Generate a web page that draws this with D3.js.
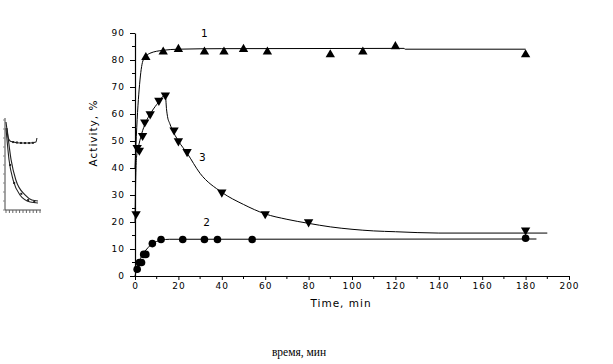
<!DOCTYPE html>
<html><head><meta charset="utf-8">
<script src="https://cdn.jsdelivr.net/npm/d3@7/dist/d3.min.js"></script>
<style>
html,body{margin:0;padding:0;background:#fff;}
svg{display:block;}
</style></head>
<body>
<svg id="chart" width="613" height="364"></svg>
<script>
// ---- data ----
const xTicks = [0,20,40,60,80,100,120,140,160,180,200];
const yTicks = [0,10,20,30,40,50,60,70,80,90];
const xLabel = "Time, min";
const yLabel = "Activity, %";
const bottomLabel = "время, мин";

// series 1 (triangle up)
const s1Time = [5,13,20,32,41,50,61,90,105,120,180];
const s1Val  = [81,83,84,83,83,84,83,82,83,85,82];
const c1Time = [0,0.8,2.3,3.8,6.9,13,20,40,124,124.5,180];
const c1Val  = [40,55,72.6,80,82.5,83.6,84,84.2,84.3,84,84];

// series 2 (circle)
const s2Time = [1,2,3,4,5,8,12,22,32,38,54,180];
const s2Val  = [2.5,5,5,8,8,12,13.5,13.5,13.5,13.5,13.5,14];
const c2Time = [0,1,2,4,6,8,10,12,16,185];
const c2Val  = [0,3,5.5,8.5,10.5,12,12.8,13.3,13.6,13.7];

// series 3 (triangle down)
const s3Time = [0.5,1,2,3.5,4.5,7,11,14,18,20,24,40,60,80,180];
const s3Val  = [23,47.5,46.5,52,57,60,65,67,54,50,46,31,23,20,17];
const c3Time = [0,0.3,0.7,1.5,3,5,7,10,14,14.5,15,16,17,20,24,30,40,50,60,70,80,90,100,110,120,140,190];
const c3Val  = [20,35,44,47.5,52.5,57,60,63.5,67,62,59,56.5,54.5,50,45.5,38,31,26.5,23,21,19.5,18.2,17.3,16.7,16.4,15.9,15.9];

const seriesLabels = ["1","2","3"];
const labelTime = [32,33,31];
const labelVal  = [90,20,44];

// small inset thumbnail at left
const insTopX = [0,0.3,0.6,1.2,2.1,4.1,7.1,8.8,9.1];
const insTopY = [97.8,88.9,81,76.7,75.6,74.4,74.4,75.6,80];
const insTopMX = [2.1,3.2,4.4,5.6,6.8,7.9];
const insTopMY = [75.5,75,74.5,74.4,74.4,74.6];
const insAX = [0,0.9,2.1,4.1,7.1,9.4];
const insAY = [91,55.6,33.3,16.7,8.9,7.8];
const insBX = [0.3,1.5,2.9,5.6,7.6,9.4];
const insBY = [91,55.6,33.3,16.7,11.1,10];
const insMX = [1.2,2.4,4.5,6.5,8.3];
const insMY = [50,30,18,11,9];

// ---- drawing ----
const svg = d3.select("#chart");
const x = d3.scaleLinear().domain([0,200]).range([135,569]);
const y = d3.scaleLinear().domain([0,90]).range([276,33]);
const tickFont = "DejaVu Sans, Verdana, sans-serif";

// axes
const xAxis = d3.axisBottom(x).tickValues(xTicks).tickSize(4).tickSizeOuter(0).tickPadding(3);
const gx = svg.append("g").attr("transform","translate(0,276)").call(xAxis);
const gy = svg.append("g").attr("transform","translate(135,0)")
  .call(d3.axisLeft(y).tickValues(yTicks).tickSize(5).tickSizeOuter(0).tickPadding(5));
// minor ticks
const xMinor = d3.range(10,200,20);
svg.append("g").selectAll("line").data(xMinor).join("line")
  .attr("x1",d=>x(d)).attr("x2",d=>x(d)).attr("y1",276).attr("y2",279)
  .attr("stroke","#000");
const yMinor = d3.range(5,90,10);
svg.append("g").selectAll("line").data(yMinor).join("line")
  .attr("x1",135).attr("x2",132).attr("y1",d=>y(d)).attr("y2",d=>y(d))
  .attr("stroke","#000");
[gx,gy].forEach(g=>{
  g.select(".domain").attr("stroke","#000").attr("stroke-width",1.2);
  g.selectAll(".tick line").attr("stroke","#000");
  g.selectAll(".tick text").attr("fill","#000")
    .style("font-family",tickFont).style("font-size","9px").style("letter-spacing","1px");
});

// axis titles
svg.append("text").attr("x",341).attr("y",307).attr("text-anchor","middle")
  .style("font-family",tickFont).style("font-size","10.5px").style("letter-spacing","1px")
  .text(xLabel);
svg.append("text").attr("transform","translate(97,133) rotate(-90)").attr("text-anchor","middle")
  .style("font-family",tickFont).style("font-size","10.5px").style("letter-spacing","1px")
  .text(yLabel);
svg.append("text").attr("x",299).attr("y",356).attr("text-anchor","middle")
  .style("font-family","Liberation Serif, Times New Roman, serif").style("font-size","11.5px")
  .text(bottomLabel);

// curves
const line = d3.line().x(d=>x(d[0])).y(d=>y(d[1])).curve(d3.curveMonotoneX);
const curves = [[c1Time,c1Val],[c2Time,c2Val],[c3Time,c3Val]];
curves.forEach(([t,v])=>{
  svg.append("path").datum(t.map((d,i)=>[d,v[i]]))
    .attr("d",line).attr("fill","none").attr("stroke","#000").attr("stroke-width",1);
});

// markers
const triUp = d3.symbol().type(d3.symbolTriangle).size(38);
svg.append("g").selectAll("path").data(s1Time.map((d,i)=>[d,s1Val[i]])).join("path")
  .attr("d",triUp).attr("transform",d=>`translate(${x(d[0])},${y(d[1])})`).attr("fill","#000");
svg.append("g").selectAll("path").data(s3Time.map((d,i)=>[d,s3Val[i]])).join("path")
  .attr("d",triUp).attr("transform",d=>`translate(${x(d[0])},${y(d[1])}) rotate(180)`).attr("fill","#000");
svg.append("g").selectAll("circle").data(s2Time.map((d,i)=>[d,s2Val[i]])).join("circle")
  .attr("cx",d=>x(d[0])).attr("cy",d=>y(d[1])).attr("r",3.8).attr("fill","#000");

// series labels
svg.append("g").selectAll("text").data(seriesLabels).join("text")
  .attr("x",(d,i)=>x(labelTime[i])).attr("y",(d,i)=>y(labelVal[i])+4)
  .attr("text-anchor","middle")
  .style("font-family",tickFont).style("font-size","10.5px")
  .text(d=>d);

// inset thumbnail
const ix = d3.scaleLinear().domain([0,10]).range([6,40]);
const iy = d3.scaleLinear().domain([0,100]).range([210,120]);
const ins = svg.append("g");
ins.append("line").attr("x1",5).attr("x2",5).attr("y1",118).attr("y2",210).attr("stroke","#444");
ins.append("line").attr("x1",5).attr("x2",41).attr("y1",210).attr("y2",210).attr("stroke","#444");
ins.selectAll(".xt").data(d3.range(0,11)).join("line").attr("class","xt")
  .attr("x1",d=>ix(d)).attr("x2",d=>ix(d)).attr("y1",210).attr("y2",213).attr("stroke","#666");
ins.selectAll(".yt").data(d3.range(0,101,10)).join("line").attr("class","yt")
  .attr("x1",5).attr("x2",3).attr("y1",d=>iy(d)).attr("y2",d=>iy(d)).attr("stroke","#888");
const iline = d3.line().x(d=>ix(d[0])).y(d=>iy(d[1])).curve(d3.curveMonotoneX);
[[insTopX,insTopY],[insAX,insAY],[insBX,insBY]].forEach(([a,b])=>{
  ins.append("path").datum(a.map((d,i)=>[d,b[i]])).attr("d",iline)
    .attr("fill","none").attr("stroke","#222").attr("stroke-width",1.1);
});
ins.selectAll(".tm").data(insTopMX.map((d,i)=>[d,insTopMY[i]])).join("rect").attr("class","tm")
  .attr("x",d=>ix(d[0])-1).attr("y",d=>iy(d[1])-1).attr("width",2).attr("height",2).attr("fill","#222");
ins.selectAll(".lm").data(insMX.map((d,i)=>[d,insMY[i]])).join("rect").attr("class","lm")
  .attr("x",d=>ix(d[0])-1).attr("y",d=>iy(d[1])-1).attr("width",2).attr("height",2).attr("fill","#222");
</script>
</body></html>
